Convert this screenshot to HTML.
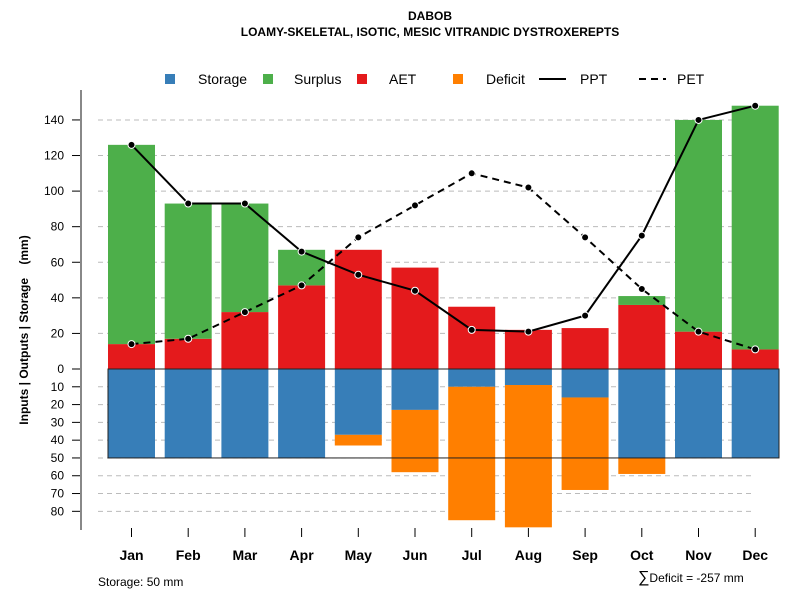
<!DOCTYPE html>
<html><head><meta charset="utf-8"><style>
body{margin:0;background:#fff;font-family:"Liberation Sans",sans-serif}
svg text{font-family:"Liberation Sans",sans-serif}
</style></head><body>
<svg id="chart" width="800" height="600">
<text x="430" y="20" text-anchor="middle" font-size="12" font-weight="bold">DABOB</text>
<text x="430" y="36" text-anchor="middle" font-size="12" font-weight="bold">LOAMY-SKELETAL, ISOTIC, MESIC VITRANDIC DYSTROXEREPTS</text>
<g id="grid"></g><g id="bars"></g><g id="lines"></g><g id="axes"></g>
<g font-size="14">
<rect x="165" y="74" width="10" height="10" fill="#377eb8"/><text x="198" y="84">Storage</text>
<rect x="263" y="74" width="10" height="10" fill="#4daf4a"/><text x="294" y="84">Surplus</text>
<rect x="357" y="74" width="10" height="10" fill="#e41a1c"/><text x="389" y="84">AET</text>
<rect x="453" y="74" width="10" height="10" fill="#ff7f00"/><text x="486" y="84">Deficit</text>
<line x1="539" y1="79" x2="566" y2="79" stroke="#000" stroke-width="2"/><text x="580" y="84">PPT</text>
<line x1="639" y1="79" x2="666" y2="79" stroke="#000" stroke-width="2" stroke-dasharray="7,5"/><text x="677" y="84">PET</text>
</g>
<text transform="translate(28,330) rotate(-90)" text-anchor="middle" font-size="12" font-weight="bold" style="white-space:pre">Inputs | Outputs | Storage    (mm)</text>
<text x="98" y="586" font-size="12">Storage: 50 mm</text>
<text x="638" y="582" font-size="12"><tspan font-size="16">∑</tspan>Deficit = -257 mm</text>
</svg>
<script>
const months=["Jan","Feb","Mar","Apr","May","Jun","Jul","Aug","Sep","Oct","Nov","Dec"];
const ppt=[126,93,93,66,53,44,22,21,30,75,140,148];
const pet=[14,17,32,47,74,92,110,102,74,45,21,11];
const aet=[14,17,32,47,67,57,35,22,23,36,21,11];
const surplus=[112,76,61,20,0,0,0,0,0,5,119,137];
const storage=[50,50,50,50,37,23,10,9,16,50,50,50];
const deficit=[0,0,0,0,6,35,75,80,52,9,0,0];
const upTicks=[0,20,40,60,80,100,120,140];
const downTicks=[10,20,30,40,50,60,70,80];
const storageMax=50;
const NS="http://www.w3.org/2000/svg";
const y0=369,k=1.779;
const yU=v=>y0-v*k, yD=v=>y0+v*k;
const xC=i=>131.5+i*56.7, bw=47;
function el(p,t,a){const e=document.createElementNS(NS,t);for(const q in a)e.setAttribute(q,a[q]);p.appendChild(e);return e;}
const G=document.getElementById("grid"),B=document.getElementById("bars"),L=document.getElementById("lines"),A=document.getElementById("axes");
upTicks.forEach(v=>{if(v>0){const l=el(G,"line",{x1:98,x2:755,y1:yU(v),y2:yU(v),stroke:"#bbb","stroke-dasharray":"5,4"});

}
const t=el(A,"line",{x1:72,x2:81,y1:yU(v),y2:yU(v),stroke:"#000"});


const tx=el(A,"text",{x:64,y:yU(v)+4,"text-anchor":"end","font-size":12});tx.textContent=v;

});
downTicks.forEach(v=>{const l=el(G,"line",{x1:98,x2:755,y1:yD(v),y2:yD(v),stroke:"#bbb","stroke-dasharray":"5,4"});


const t=el(A,"line",{x1:72,x2:81,y1:yD(v),y2:yD(v),stroke:"#000"});


const tx=el(A,"text",{x:64,y:yD(v)+4,"text-anchor":"end","font-size":12});tx.textContent=v;

});
months.forEach((m,i)=>{const x=xC(i)-bw/2;
let r=el(B,"rect",{x:x,width:bw,y:yU(aet[i]),height:aet[i]*k,fill:"#e41a1c"});


if(surplus[i]>0){r=el(B,"rect",{x:x,width:bw,y:yU(aet[i]+surplus[i]),height:surplus[i]*k,fill:"#4daf4a"});

}
r=el(B,"rect",{x:x,width:bw,y:y0,height:storage[i]*k,fill:"#377eb8"});


if(deficit[i]>0){r=el(B,"rect",{x:x,width:bw,y:yD(storage[i]),height:deficit[i]*k,fill:"#ff7f00"});

}
const t=el(A,"line",{x1:xC(i),x2:xC(i),y1:528,y2:537,stroke:"#000"});


const tx=el(A,"text",{x:xC(i),y:560,"text-anchor":"middle","font-size":14,"font-weight":"bold"});tx.textContent=m;

});
const box=el(B,"rect",{x:108,y:y0,width:671,height:storageMax*k,fill:"none",stroke:"#222","stroke-width":1});


const ax=el(A,"line",{x1:81,x2:81,y1:90,y2:530,stroke:"#888","stroke-width":2});


function series(arr,name,dash){const p=el(L,"polyline",{points:arr.map((v,i)=>xC(i)+","+yU(v)).join(" "),fill:"none",stroke:"#000","stroke-width":2,"stroke-dasharray":dash});


arr.forEach((v,i)=>{const c=el(L,"circle",{cx:xC(i),cy:yU(v),r:3.5,fill:"#000",stroke:"#fff","stroke-width":1});

});}
series(pet,"pet","7,5");series(ppt,"ppt","none");
</script>
</body></html>
